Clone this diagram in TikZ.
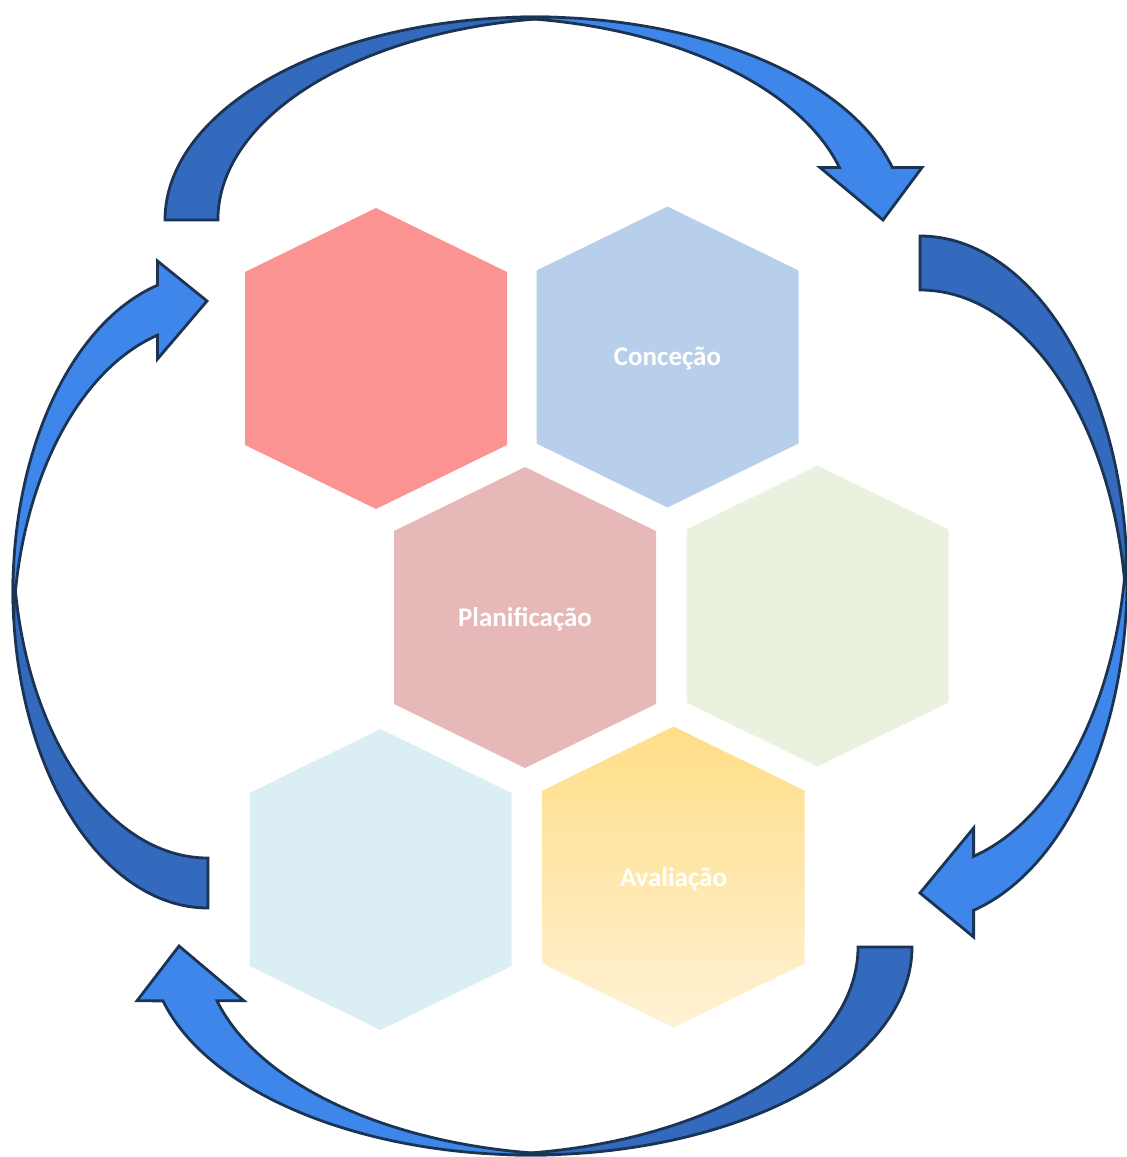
\documentclass[tikz,border=0pt]{standalone}
\usepackage{fontspec}
\setmainfont{Carlito}
\definecolor{arrowdark}{RGB}{51,106,190}
\definecolor{arrowlight}{RGB}{62,134,234}
\definecolor{arrowline}{RGB}{27,52,84}
\definecolor{hexred}{RGB}{250,147,146}
\definecolor{hexblue}{RGB}{184,207,236}
\definecolor{hexrose}{RGB}{230,184,183}
\definecolor{hexgreen}{RGB}{235,241,223}
\definecolor{hexsky}{RGB}{219,238,244}
\definecolor{hexgoldtop}{RGB}{255,222,135}
\definecolor{hexgoldbot}{RGB}{255,241,212}
\tikzset{
  backpart/.style={fill=arrowdark, draw=arrowline, line width=2.8pt},
  frontpart/.style={fill=arrowlight, draw=arrowline, line width=2.8pt},
  hexlabel/.style={inner sep=0pt, text=white, font=\bfseries\fontsize{27}{32}\selectfont}
}
\newcommand{\hexshape}[1]{#1 ++(0,-150.5) -- ++(131,64) -- ++(0,173) -- ++(-131,64) -- ++(-131,-64) -- ++(0,-173) -- cycle}
\begin{document}
\begin{tikzpicture}[x=1pt,y=-1pt]
\useasboundingbox (0,0) rectangle (1127,1157);
% hexagons
\fill[hexred]   \hexshape{(376,358.5)};
\fill[hexblue]  \hexshape{(667.5,357)};
\fill[hexrose]  \hexshape{(525,617.5)};
\fill[hexgreen] \hexshape{(817.5,616)};
\fill[hexsky]   \hexshape{(380.5,879.5)};
\path[top color=hexgoldtop, bottom color=hexgoldbot] \hexshape{(673.5,877)};
\node[hexlabel] (h1) at (376,358.5) {};
\node[hexlabel] (h2) at (667.5,359) {Conceção};
\node[hexlabel] (h3) at (525,619.5) {Planificação};
\node[hexlabel] (h4) at (817.5,616) {};
\node[hexlabel] (h5) at (380.5,879.5) {};
\node[hexlabel] (h6) at (673.5,879) {Avaliação};
% top arrow
\draw[backpart] (165,220) arc[start angle=180, end angle=274.1, x radius=370, y radius=203]
  arc[start angle=265.9, end angle=180, x radius=370, y radius=203] -- cycle;
\draw[frontpart] (508.5,17.5) arc[start angle=265.9, end angle=345, x radius=370, y radius=203]
  -- (922,167.5) -- (883,220) -- (820,167.5) -- (839.4,167.5)
  arc[start angle=345, end angle=274.1, x radius=370, y radius=203] -- cycle;
% right arrow
\draw[backpart] (920,236) arc[start angle=-90, end angle=4.515, x radius=207, y radius=343]
  arc[start angle=-4.515, end angle=-90, x radius=207, y radius=343] -- cycle;
\draw[frontpart] (1126.4,552) arc[start angle=-4.515, end angle=75, x radius=207, y radius=343]
  -- (973.6,937) -- (920,893) -- (973.6,828) -- (973.6,856.3)
  arc[start angle=75, end angle=4.515, x radius=207, y radius=343] -- cycle;
% bottom arrow
\draw[backpart] (912,947) arc[start angle=0, end angle=94.064, x radius=381, y radius=208]
  arc[start angle=85.936, end angle=0, x radius=381, y radius=208] -- cycle;
\draw[frontpart] (558,1154.5) arc[start angle=85.936, end angle=165, x radius=381, y radius=208]
  -- (137,1000.8) -- (179,946) -- (244,1000.8) -- (217,1000.8)
  arc[start angle=165, end angle=94.064, x radius=381, y radius=208] -- cycle;
% left arrow
\draw[backpart] (208,908) arc[start angle=90, end angle=184.526, x radius=195, y radius=316.8]
  arc[start angle=175.474, end angle=90, x radius=195, y radius=316.8] -- cycle;
\draw[frontpart] (13.6,616.2) arc[start angle=175.474, end angle=255, x radius=195, y radius=316.8]
  -- (157.5,261) -- (207,301) -- (157.5,359) -- (157.5,335.2)
  arc[start angle=255, end angle=184.526, x radius=195, y radius=316.8] -- cycle;
\end{tikzpicture}
\end{document}
